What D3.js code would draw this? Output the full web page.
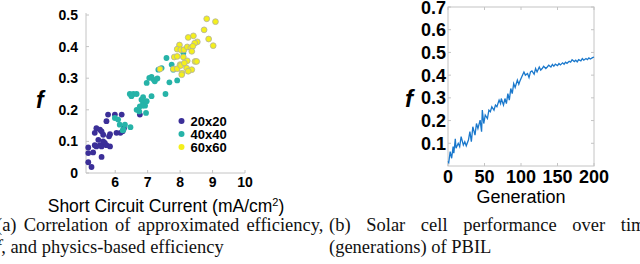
<!DOCTYPE html>
<html>
<head>
<meta charset="utf-8">
<script src="https://cdn.jsdelivr.net/npm/d3@7"></script>
<style>
  body { margin: 0; background: #fff; }
  svg { display: block; }
</style>
</head>
<body>
<div class="canvas"></div>
<script>
// scatter data (short circuit current vs f)
const s20x = [5.17, 5.17, 5.32, 5.17, 5.27, 5.58, 5.37, 5.42, 5.53, 5.37, 5.53, 5.48, 5.42, 5.58, 5.68, 5.73, 5.84, 5.63, 5.58, 5.81, 5.84, 5.73, 5.78, 5.99, 6.04, 6.16, 6.20, 6.27, 6.23, 6.76, 5.63];
const s20y = [0.081, 0.063, 0.065, 0.034, 0.019, 0.051, 0.127, 0.142, 0.137, 0.088, 0.088, 0.105, 0.084, 0.084, 0.095, 0.088, 0.084, 0.121, 0.132, 0.116, 0.123, 0.164, 0.185, 0.185, 0.127, 0.127, 0.185, 0.142, 0.132, 0.185, 0.100];

const s40x = [5.99, 6.09, 6.14, 6.25, 6.30, 6.47, 6.23, 6.45, 6.56, 6.66, 6.50, 6.66, 6.76, 6.81, 6.86, 6.86, 6.92, 6.97, 6.95, 7.12, 6.84, 6.74, 6.97, 7.05, 7.12, 7.19, 7.22, 7.30, 7.33, 7.43, 7.55, 7.58, 7.67, 7.74, 7.79, 7.91, 8.10];
const s40y = [0.174, 0.169, 0.153, 0.137, 0.153, 0.145, 0.135, 0.250, 0.250, 0.250, 0.243, 0.200, 0.211, 0.232, 0.240, 0.222, 0.213, 0.227, 0.190, 0.243, 0.213, 0.195, 0.285, 0.301, 0.304, 0.295, 0.290, 0.299, 0.327, 0.332, 0.250, 0.364, 0.287, 0.343, 0.327, 0.293, 0.380];

const s60x = [8.82, 9.09, 8.74, 8.88, 9.02, 8.25, 8.41, 8.53, 8.45, 7.98, 7.91, 8.02, 8.12, 8.22, 8.33, 8.39, 8.36, 7.82, 7.91, 8.10, 8.22, 8.46, 8.00, 7.79, 7.91, 8.02, 8.20, 8.36, 8.25, 8.06, 7.38, 8.13, 8.51, 8.05];
const s60y = [0.488, 0.479, 0.453, 0.424, 0.403, 0.429, 0.434, 0.415, 0.411, 0.405, 0.392, 0.390, 0.390, 0.399, 0.396, 0.401, 0.385, 0.367, 0.369, 0.367, 0.355, 0.353, 0.343, 0.329, 0.330, 0.340, 0.332, 0.327, 0.322, 0.316, 0.329, 0.348, 0.353, 0.311];

const seriesNames = ['20x20', '40x40', '60x60'];
const xTicksA = [6, 7, 8, 9, 10];
const yTicksA = [0, 0.1, 0.2, 0.3, 0.4, 0.5];

// PBIL performance per generation
const gens = [0, 1, 3, 5, 7, 8, 10, 11, 14, 16, 18, 21, 23, 25, 28, 30, 32, 34, 37, 39, 41, 44, 46, 47, 49, 51, 54, 56, 58, 60, 63, 65, 67, 70, 72, 73, 76, 78, 80, 82, 84, 86, 88, 90, 92, 95, 97, 99, 102, 104, 106, 109, 111, 113, 115, 118, 120, 122, 125, 127, 129, 131, 134, 136, 138, 141, 143, 145, 147, 150, 152, 154, 157, 159, 161, 163, 166, 168, 170, 173, 175, 177, 179, 182, 184, 186, 189, 191, 193, 195, 198, 200];
const perf = [0.02, 0.015, 0.063, 0.034, 0.085, 0.056, 0.12, 0.078, 0.10, 0.085, 0.129, 0.092, 0.107, 0.089, 0.114, 0.151, 0.107, 0.173, 0.136, 0.187, 0.165, 0.202, 0.151, 0.246, 0.187, 0.224, 0.209, 0.246, 0.239, 0.261, 0.246, 0.268, 0.261, 0.290, 0.275, 0.297, 0.268, 0.297, 0.275, 0.319, 0.29, 0.341, 0.319, 0.363, 0.346, 0.378, 0.360, 0.378, 0.40, 0.414, 0.40, 0.407, 0.389, 0.414, 0.419, 0.404, 0.429, 0.414, 0.436, 0.422, 0.429, 0.439, 0.429, 0.436, 0.444, 0.436, 0.447, 0.439, 0.448, 0.442, 0.451, 0.445, 0.454, 0.448, 0.457, 0.452, 0.461, 0.457, 0.468, 0.46, 0.466, 0.458, 0.468, 0.463, 0.473, 0.466, 0.473, 0.468, 0.476, 0.471, 0.477, 0.48];
const xTicksB = [0, 50, 100, 150, 200];
const yTicksB = [0.1, 0.2, 0.3, 0.4, 0.5, 0.6, 0.7];

const colors = ['#3b2f98', '#26b3a8', '#f4ef1c'];
const axisGray = '#c4c4c4';
const sans = 'Liberation Sans, Arial, Helvetica, sans-serif';
const serif = 'Liberation Serif, Times New Roman, serif';

const svg = d3.select('.canvas')
    .append('svg')
    .attr('width', 640)
    .attr('height', 264);

// ---------- left: scatter ----------
const xA = d3.scaleLinear().domain([5.1, 10]).range([86, 245]);
const yA = d3.scaleLinear().domain([0, 0.5]).range([173, 15]);

const gA = svg.append('g');

gA.append('line')
    .attr('x1', 86).attr('x2', 86).attr('y1', yA(0)).attr('y2', 13)
    .attr('stroke', axisGray);
gA.append('line')
    .attr('x1', 86).attr('x2', 245).attr('y1', yA(0)).attr('y2', yA(0))
    .attr('stroke', axisGray);

// inward tick marks
gA.selectAll('.xt').data(xTicksA).enter().append('line')
    .attr('x1', d => xA(d)).attr('x2', d => xA(d))
    .attr('y1', yA(0)).attr('y2', yA(0) - 3)
    .attr('stroke', axisGray);
gA.selectAll('.yt').data(yTicksA).enter().append('line')
    .attr('x1', 86).attr('x2', 89)
    .attr('y1', d => yA(d)).attr('y2', d => yA(d))
    .attr('stroke', axisGray);

gA.selectAll('.xl').data(xTicksA).enter().append('text')
    .attr('x', d => xA(d)).attr('y', 187)
    .attr('text-anchor', 'middle')
    .attr('font-family', sans).attr('font-weight', 'bold').attr('font-size', 14)
    .text(d => d);
gA.selectAll('.yl').data(yTicksA).enter().append('text')
    .attr('x', 78).attr('y', d => yA(d) + 5)
    .attr('text-anchor', 'end')
    .attr('font-family', sans).attr('font-weight', 'bold').attr('font-size', 14)
    .text(d => d === 0 ? '0' : d3.format('.1f')(d));

const series = [
    s20x.map((x, i) => ({ x, y: s20y[i], k: 0 })),
    s40x.map((x, i) => ({ x, y: s40y[i], k: 1 })),
    s60x.map((x, i) => ({ x, y: s60y[i], k: 2 }))
];

series.forEach(pts => {
    gA.selectAll(null).data(pts).enter().append('circle')
        .attr('cx', d => xA(d.x))
        .attr('cy', d => yA(d.y))
        .attr('r', 2.9)
        .attr('fill', d => colors[d.k])
        .attr('stroke', d => d.k === 2 ? '#b0b0a0' : 'none')
        .attr('stroke-width', 0.8);
});

// legend
const leg = gA.selectAll('.leg').data(seriesNames).enter().append('g')
    .attr('transform', (d, i) => `translate(181.5, ${121 + i * 13})`);
leg.append('circle').attr('r', 3).attr('fill', (d, i) => colors[i]);
leg.append('text')
    .attr('x', 9).attr('y', 4.5)
    .attr('font-family', sans).attr('font-weight', 'bold').attr('font-size', 13)
    .text(d => d);

gA.append('text')
    .attr('x', 36).attr('y', 108)
    .attr('font-family', sans).attr('font-weight', 'bold').attr('font-style', 'italic')
    .attr('font-size', 23)
    .text('f');

const xlab = gA.append('text')
    .attr('x', 166).attr('y', 212)
    .attr('text-anchor', 'middle')
    .attr('font-family', sans).attr('font-size', 17.5);
xlab.append('tspan').text('Short Circuit Current (mA/cm');
xlab.append('tspan').attr('dy', -6).attr('font-size', 11).text('2');
xlab.append('tspan').attr('dy', 6).text(')');

// ---------- right: PBIL line ----------
const xB = d3.scaleLinear().domain([0, 200]).range([448, 594]);
const yB = d3.scaleLinear().domain([0, 0.7]).range([166, 7]);

const gB = svg.append('g');

gB.append('rect')
    .attr('x', 448).attr('y', 7).attr('width', 146).attr('height', 159)
    .attr('fill', 'none').attr('stroke', axisGray);

gB.selectAll('.xt').data(xTicksB).enter().append('line')
    .attr('x1', d => xB(d)).attr('x2', d => xB(d))
    .attr('y1', 166).attr('y2', 163)
    .attr('stroke', axisGray);
gB.selectAll('.xt2').data(xTicksB).enter().append('line')
    .attr('x1', d => xB(d)).attr('x2', d => xB(d))
    .attr('y1', 7).attr('y2', 10)
    .attr('stroke', axisGray);
gB.selectAll('.yt').data(yTicksB).enter().append('line')
    .attr('x1', 448).attr('x2', 451)
    .attr('y1', d => yB(d)).attr('y2', d => yB(d))
    .attr('stroke', axisGray);
gB.selectAll('.yt2').data(yTicksB).enter().append('line')
    .attr('x1', 591).attr('x2', 594)
    .attr('y1', d => yB(d)).attr('y2', d => yB(d))
    .attr('stroke', axisGray);

gB.selectAll('.xl').data(xTicksB).enter().append('text')
    .attr('x', d => xB(d)).attr('y', 183)
    .attr('text-anchor', 'middle')
    .attr('font-family', sans).attr('font-weight', 'bold').attr('font-size', 18)
    .text(d => d);
gB.selectAll('.yl').data(yTicksB).enter().append('text')
    .attr('x', 446).attr('y', d => yB(d) + 6.5)
    .attr('text-anchor', 'end')
    .attr('font-family', sans).attr('font-weight', 'bold').attr('font-size', 18)
    .text(d => d3.format('.1f')(d));

const line = d3.line()
    .x((d, i) => xB(gens[i]))
    .y(d => yB(d));

gB.append('path')
    .datum(perf)
    .attr('d', line)
    .attr('fill', 'none')
    .attr('stroke', '#1a78cc')
    .attr('stroke-width', 1.3);

gB.append('text')
    .attr('x', 405).attr('y', 107)
    .attr('font-family', sans).attr('font-weight', 'bold').attr('font-style', 'italic')
    .attr('font-size', 24)
    .text('f');

gB.append('text')
    .attr('x', 521).attr('y', 203)
    .attr('text-anchor', 'middle')
    .attr('font-family', sans).attr('font-size', 18)
    .text('Generation');

// ---------- captions (first lines justified, like LaTeX) ----------
const cap = svg.append('g')
    .attr('font-family', serif).attr('font-size', 18.5).attr('fill', '#111');

cap.append('text').attr('x', -4).attr('y', 231)
    .attr('word-spacing', 2.5)
    .text('(a) Correlation of approximated efficiency,');
const capA2 = cap.append('text').attr('x', -4).attr('y', 253);
capA2.append('tspan').attr('font-style', 'italic').text('f');
capA2.append('tspan').text(', and physics-based efficiency');

cap.append('text').attr('x', 329).attr('y', 231)
    .attr('word-spacing', 11)
    .text('(b) Solar cell performance over time');
cap.append('text').attr('x', 329).attr('y', 253)
    .text('(generations) of PBIL');
</script>
</body>
</html>
